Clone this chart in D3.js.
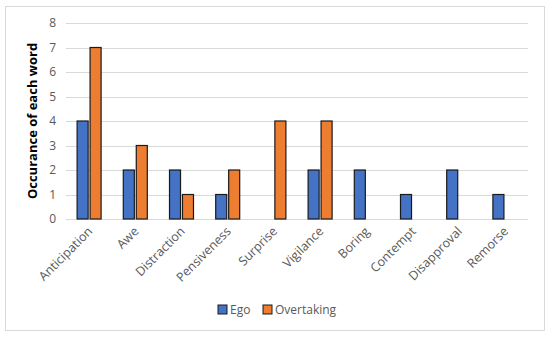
<!DOCTYPE html>
<html>
<head>
<meta charset="utf-8">
<script src="https://cdn.jsdelivr.net/npm/d3@7"></script>
<style>
  body { margin: 0; background: #fff; }
  text { font-family: "Open Sans", "Liberation Sans", sans-serif; }
</style>
</head>
<body>
<svg width="550" height="337"></svg>
<script>
var categories = ["Anticipation", "Awe", "Distraction", "Pensiveness", "Surprise",
                  "Vigilance", "Boring", "Contempt", "Disapproval", "Remorse"];
var series = ["Ego", "Overtaking"];
var egoValues = [4, 2, 2, 1, 0, 2, 2, 1, 2, 1];
var overtakingValues = [7, 3, 1, 2, 4, 4, 0, 0, 0, 0];
var yTicks = [0, 1, 2, 3, 4, 5, 6, 7, 8];

var svg = d3.select("svg"),
    width = +svg.attr("width"),
    height = +svg.attr("height");

var colors = { "Ego": "#4472C4", "Overtaking": "#ED7D31" };

var margin = { left: 66, right: 22, top: 23, bottom: 118 };

svg.append("rect")
    .attr("x", 5.5).attr("y", 6.5)
    .attr("width", 539).attr("height", 324)
    .attr("fill", "#fff")
    .attr("stroke", "#d9d9d9");

var x = d3.scaleBand()
    .domain(categories)
    .range([margin.left, width - margin.right]);

var x1 = d3.scaleBand()
    .domain(series)
    .range([0, 24])
    .paddingInner(0.15);

var y = d3.scaleLinear()
    .domain([0, 8])
    .range([height - margin.bottom, margin.top]);

// gridlines
svg.append("g")
    .selectAll("line")
    .data(yTicks)
    .enter()
        .append("line")
        .attr("x1", margin.left)
        .attr("x2", width - margin.right)
        .attr("y1", function(d) { return Math.round(y(d)) + 0.5; })
        .attr("y2", function(d) { return Math.round(y(d)) + 0.5; })
        .attr("stroke", "#d9d9d9")
        .attr("stroke-width", 1);

// y tick labels
svg.append("g")
    .selectAll("text")
    .data(yTicks)
    .enter()
        .append("text")
        .attr("x", 56)
        .attr("y", function(d) { return y(d); })
        .attr("dy", "0.35em")
        .attr("text-anchor", "end")
        .attr("font-size", 12)
        .attr("fill", "#595959")
        .text(function(d) { return d; });

var rows = categories.map(function(c, i) {
    return { cat: c, values: [
        { key: "Ego", value: egoValues[i] },
        { key: "Overtaking", value: overtakingValues[i] }
    ]};
});

var group = svg.append("g")
    .selectAll("g")
    .data(rows)
    .enter()
        .append("g")
        .attr("transform", function(d) {
            return "translate(" + (x(d.cat) + x.bandwidth() / 2 - 12) + ",0)";
        });

group.selectAll("rect")
    .data(function(d) { return d.values.filter(function(v) { return v.value > 0; }); })
    .enter()
        .append("rect")
        .attr("x", function(d) { return x1(d.key); })
        .attr("width", x1.bandwidth())
        .attr("y", function(d) { return y(d.value); })
        .attr("height", function(d) { return y(0) - y(d.value); })
        .attr("fill", function(d) { return colors[d.key]; })
        .attr("stroke", "#1a1a1a")
        .attr("stroke-width", 1.2);

// category labels
svg.append("g")
    .selectAll("text")
    .data(categories)
    .enter()
        .append("text")
        .attr("transform", function(d) {
            return "translate(" + (x(d) + x.bandwidth() / 2 + 1) + "," + (y(0) + 10) + ") rotate(-45)";
        })
        .attr("text-anchor", "end")
        .attr("dy", "0.35em")
        .attr("font-size", 12.5)
        .attr("fill", "#595959")
        .text(function(d) { return d; });

// y axis title
svg.append("text")
    .attr("transform", "translate(37," + ((y(0) + y(8)) / 2) + ") rotate(-90)")
    .attr("text-anchor", "middle")
    .attr("font-size", 13)
    .attr("font-weight", "bold")
    .attr("fill", "#000")
    .text("Occurance of each word");

// legend
var legend = svg.append("g")
    .selectAll("g")
    .data(series)
    .enter()
        .append("g")
        .attr("transform", function(d, i) { return "translate(" + (218 + i * 45) + ",305)"; });

legend.append("rect")
    .attr("width", 9).attr("height", 9)
    .attr("fill", function(d) { return colors[d]; })
    .attr("stroke", "#1a1a1a");

legend.append("text")
    .attr("x", 12)
    .attr("y", 4.5)
    .attr("dy", "0.35em")
    .attr("font-size", 12)
    .attr("fill", "#595959")
    .text(function(d) { return d; });
</script>
</body>
</html>
